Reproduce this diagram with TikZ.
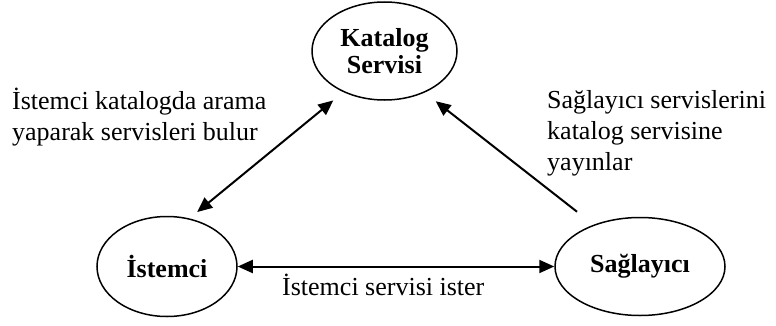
\documentclass[tikz,border=0pt]{standalone}
\usepackage{fontspec}
\setmainfont{Liberation Serif}
\usetikzlibrary{shapes.geometric,arrows.meta}
\begin{document}
\begin{tikzpicture}[x=1pt,y=1pt,
  actor/.style={ellipse,draw,line width=1.5pt,inner sep=0pt,
    font=\fontsize{26}{27}\selectfont\bfseries,align=center},
  link/.style={line width=2pt,{Triangle[length=15pt,width=13pt]}-{Triangle[length=15pt,width=13pt]}},
  onelink/.style={line width=2pt,-{Triangle[length=15pt,width=13pt]}},
  note/.style={inner sep=0pt,align=left,font=\fontsize{26}{31}\selectfont}]
\useasboundingbox (0,0) rectangle (776,325);
% actors
\node[actor,minimum width=145pt,minimum height=98pt] (kat) at (384.5,274) {Katalog\\Servisi};
\node[actor,minimum width=140pt,minimum height=100pt] (ist) at (167,58.5) {İstemci};
\node[actor,minimum width=170pt,minimum height=98pt] (sag) at (640,58.5) {Sağlayıcı};
% connectors
\draw[link,shorten <=10pt,shorten >=13pt] (ist.65.5) -- (kat.225.3);
\draw[onelink,shorten <=21pt,shorten >=14pt] (sag.138.5) -- (kat.314);
\draw[link] (ist.east) -- (sag.west);
% labels (base anchor sits on the last line)
\node[note,anchor=base west] (l1) at (12,185) {İstemci katalogda arama\\yaparak servisleri bulur};
\node[note,anchor=base west] (l2) at (547,155) {Sağlayıcı servislerini\\katalog servisine\\yayınlar};
\node[note,anchor=base west] (l3) at (282,30) {İstemci servisi ister};
\end{tikzpicture}
\end{document}
